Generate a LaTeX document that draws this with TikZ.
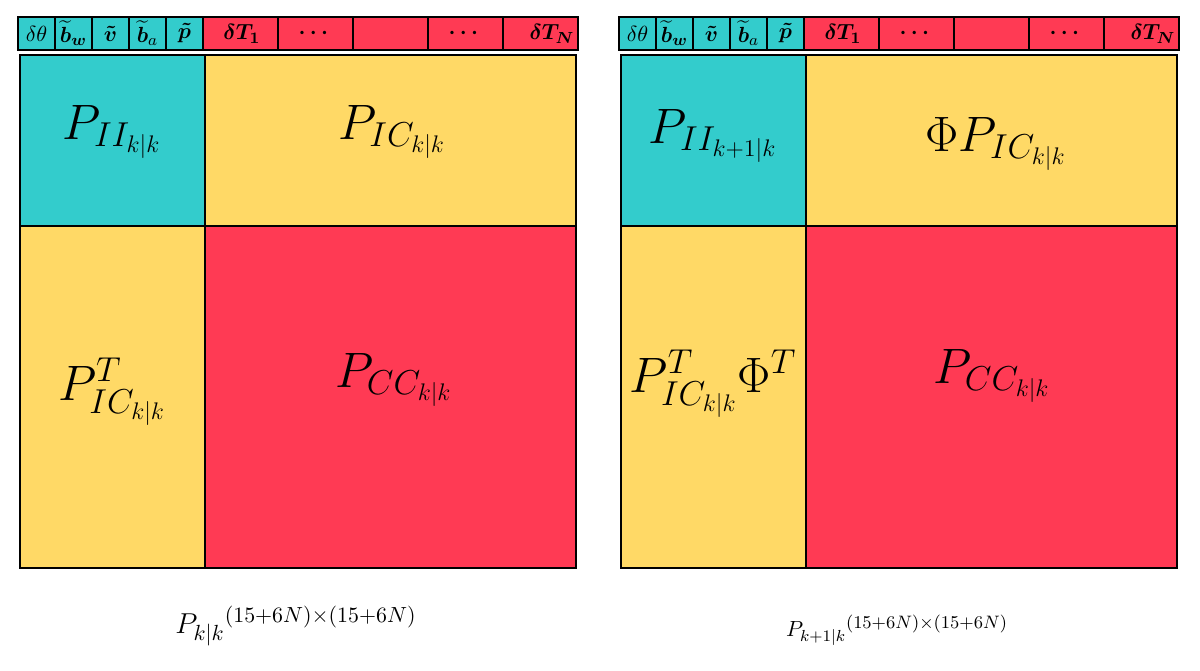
\documentclass[tikz,border=0pt]{standalone}
\usepackage{amsmath}
\usepackage{bm}
\usepackage{xcolor}
\usetikzlibrary{positioning, calc}
\definecolor{cellteal}{RGB}{51, 204, 204}
\definecolor{cellyellow}{RGB}{255, 217, 102}
\definecolor{cellred}{RGB}{255, 58, 84}

\begin{document}
\begin{tikzpicture}[x=0.5pt, y=-0.5pt,
    grid/.style={draw=black, line width=1.2pt},
    hdr/.style={font=\fontsize{11}{13}\selectfont, inner sep=0pt},
    big/.style={font=\fontsize{24}{28}\selectfont},
    dims/.style={font=\fontsize{15.5}{18}\selectfont}]
    \useasboundingbox (0,0) rectangle (1200,670);
    % two covariance matrices, same layout
    \foreach \p/\ox in {L/0, R/601} {
      \begin{scope}[shift={(\ox,0)}]
        % state vector header
        \foreach \i in {0,...,4} {
          \filldraw[cellteal, grid] (18+37*\i,17) rectangle ++(37,33);
          \filldraw[cellred, grid] (203+75*\i,17) rectangle ++(75,33);
        }
        \foreach \i/\t/\lab in {0/th/{$\delta\theta$}, 1/bw/{$\bm{\widetilde{b}_w}$},
            2/v/{$\bm{\tilde{v}}$}, 3/ba/{$\bm{\widetilde{b}}_a$}, 4/p/{$\bm{\tilde{p}}$}} {
          \node[hdr] (\p-\t) at (36.5+37*\i,33.5) {\lab};
        }
        \node[hdr] (\p-T1) at (242,34) {$\bm{\delta T_1}$};
        \node[hdr] (\p-dots1) at (315.5,33.5) {$\bm{\cdots}$};
        \node[hdr] (\p-dots2) at (465.5,33.5) {$\bm{\cdots}$};
        \node[hdr] (\p-TN) at (552,34) {$\bm{\delta T_N}$};
        % blocks
        \filldraw[cellteal, grid] (20,55) rectangle (205,226);
        \filldraw[cellyellow, grid] (205,55) rectangle (576,226);
        \filldraw[cellyellow, grid] (20,226) rectangle (205,568);
        \filldraw[cellred, grid] (205,226) rectangle (576,568);
      \end{scope}
    }
    % P_{k|k}
    \node[big] (L-II) at (112,132) {$P_{II_{k|k}}$};
    \node[big] (L-IC) at (392,132) {$P_{IC_{k|k}}$};
    \node[big] (L-CI) at (112,392) {$P^{T}_{IC_{k|k}}$};
    \node[big] (L-CC) at (394,380) {$P_{CC_{k|k}}$};
    \node[dims] (L-dim) at (296,626) {${P_{k|k}}^{(15+6N)\times(15+6N)}$};
    % P_{k+1|k}
    \node[big] (R-II) at (713,136) {$P_{II_{k+1|k}}$};
    \node[big] (R-IC) at (996,144) {$\Phi P_{IC_{k|k}}$};
    \node[big] (R-CI) at (713,384) {$P^{T}_{IC_{k|k}}\Phi^{T}$};
    \node[big] (R-CC) at (992,376) {$P_{CC_{k|k}}$};
    \node[font=\fontsize{11}{13}\selectfont] (R-dim) at (897,630)
      {${P_{k+1|k}}^{\mbox{\fontsize{8.6}{10}\selectfont$(15{+}6N){\times}(15{+}6N)$}}$};
\end{tikzpicture}
\end{document}
